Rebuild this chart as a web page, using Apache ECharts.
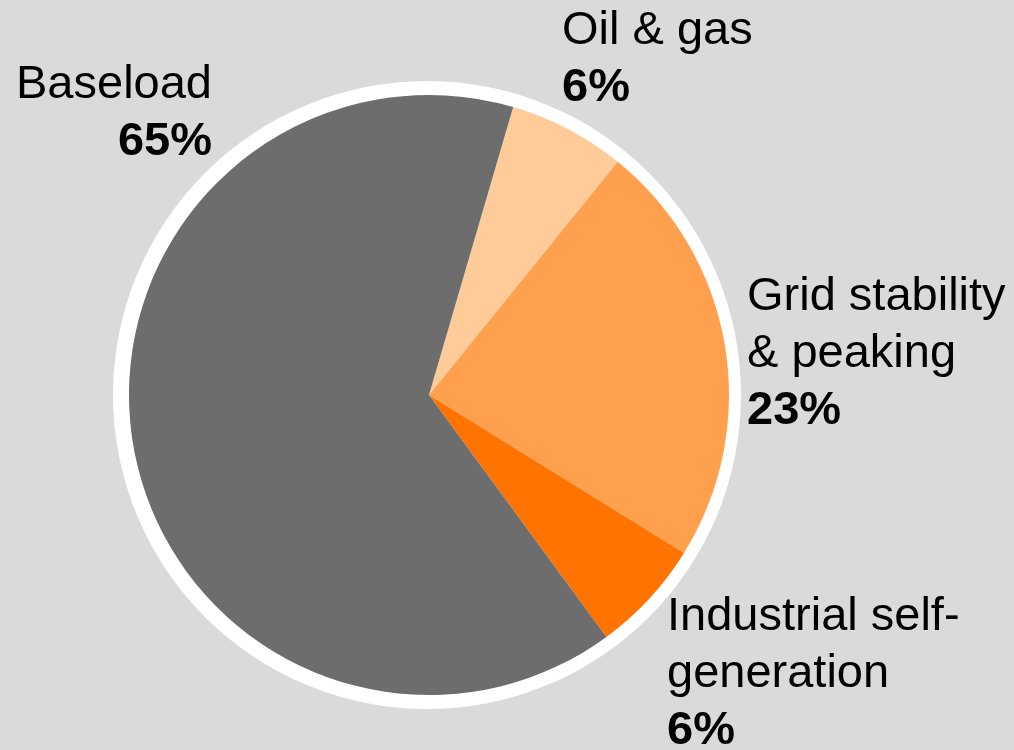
<!DOCTYPE html>
<html>
<head>
<meta charset="utf-8">
<style>
  html, body { margin: 0; padding: 0; background: #dadada; }
  #chart { width: 1014px; height: 750px; }
</style>
<script src="https://cdn.jsdelivr.net/npm/echarts@6/dist/echarts.min.js"></script>
</head>
<body>
<div id="chart"></div>
<script>
// slices, clockwise from the Oil & gas wedge
const categories = ['Oil & gas', 'Grid stability\n& peaking', 'Industrial self-\ngeneration', 'Baseload']
const shares = [6.3, 23.0, 6.1, 64.6]
const colors = ['#ffcc99', '#ffa04f', '#ff7300', '#6d6d6d']

// where each label block goes (top-left / top-right corner)
const labelPos = [
  { x: 562, y: 3, align: 'left' },
  { x: 747, y: 269, align: 'left' },
  { x: 667, y: 589, align: 'left' },
  { x: 212, y: 57, align: 'right' }
]

const chart = echarts.init(document.getElementById('chart'))

chart.setOption({
  backgroundColor: '#dadada',
  animation: false,
  textStyle: { fontFamily: 'Liberation Sans, Arial, sans-serif' },
  series: [
    {
      // white ring behind the pie
      type: 'pie',
      silent: true,
      center: [427, 395],
      radius: 314,
      label: { show: false },
      labelLine: { show: false },
      itemStyle: { color: '#ffffff' },
      data: [1],
      z: 1
    },
    {
      type: 'pie',
      silent: true,
      center: [429, 395],
      radius: 300,
      startAngle: 73.7,
      clockwise: true,
      percentPrecision: 0,
      avoidLabelOverlap: false,
      z: 2,
      label: {
        show: true,
        position: 'outside',
        overflow: 'none',
        formatter: '{n|{b}}\n{p|{d}%}',
        rich: {
          n: { fontSize: 47, lineHeight: 57, color: '#000', fontFamily: 'Liberation Sans' },
          p: { fontSize: 47, lineHeight: 57, color: '#000', fontWeight: 'bold', fontFamily: 'Liberation Sans' }
        }
      },
      labelLine: { show: false },
      labelLayout: params => {
        const p = labelPos[params.dataIndex]
        return { x: p.x, y: p.y, align: p.align, verticalAlign: 'top' }
      },
      data: categories.map((name, i) => ({
        name: name,
        value: shares[i],
        itemStyle: { color: colors[i] },
        label: { align: labelPos[i].align }
      }))
    }
  ]
})
</script>
</body>
</html>
